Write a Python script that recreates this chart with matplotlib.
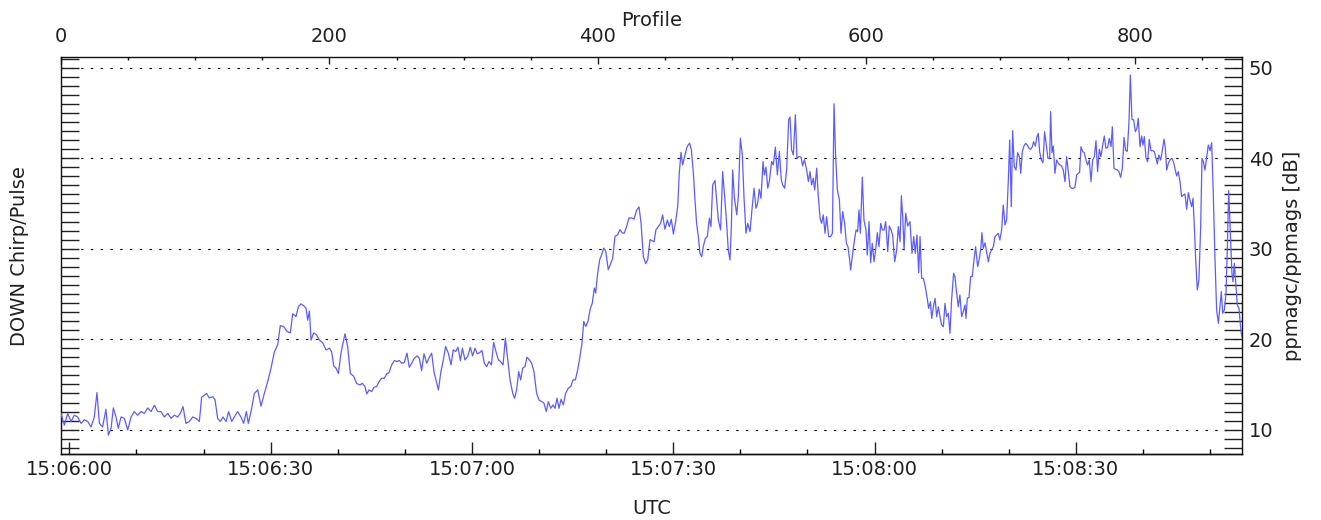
import numpy as np
import matplotlib
matplotlib.use("Agg")
import matplotlib.pyplot as plt
from matplotlib.ticker import MultipleLocator, FixedLocator, FuncFormatter

# ---- ppmagc/ppmags ratio per profile, grouped by time window ----
profile_a = [0, 2.5, 5.0, 7.5, 9.9, 12.4, 14.9, 17.4, 19.9, 22.4, 24.8, 26.8, 28.6, 31.0, 33.5,
             35.3, 37.3, 39.0, 41.0, 42.7, 44.7, 47.2, 49.7, 52.2, 54.6, 57.1, 59.6, 62.1, 64.6,
             67.1, 69.6, 72.0, 74.5, 77.0, 79.5, 82.0, 84.5, 86.9, 88.9, 90.9, 93.1, 95.6, 98.1,
             100.6, 103.1, 104.8, 106.8, 108.5, 110.5, 113.0, 114.8, 116.7, 118.7, 120.7, 123.0,
             124.9, 127.2, 129.2, 131.6, 134.1, 136.1, 138.1, 139.6, 141.6, 144.1, 146.6, 149.0,
             151.5, 154.0, 156.5, 159.0, 161.5, 163.4, 165.9, 168.4, 170.9, 172.6, 175.1, 176.9,
             178.8, 180.8, 182.6, 183.8, 185.1, 186.3, 188.3, 190.3, 192.5, 195.0, 197.5, 200.0,
             201.7, 203.2, 204.9, 206.7, 208.6, 211.6, 213.6, 215.6, 218.1, 220.3]
db_a = [11.8, 10.5, 11.8, 10.9, 11.6, 11.4, 10.7, 11.1, 10.9, 10.3, 11.4, 14.1, 10.7, 10.3, 12.25,
        9.4, 10.15, 12.4, 11.4, 10.15, 11.4, 11.25, 9.96, 11.4, 12.0, 11.6, 12.0, 11.8, 12.4,
        12.0, 12.7, 12.0, 12.0, 11.4, 11.8, 11.25, 11.6, 11.4, 11.8, 12.55, 10.7, 10.9, 11.4,
        11.25, 10.9, 13.6, 13.8, 14.0, 13.5, 13.65, 13.3, 11.25, 10.9, 11.4, 10.9,
        12.0, 10.9, 11.4, 12.0, 11.4, 10.7, 12.0, 10.7, 12.0, 14.0, 14.4, 12.6,
        14.0, 15.3, 16.8, 18.6, 19.4, 21.5, 21.4, 20.85, 20.7, 22.8, 22.5, 23.6,
        23.9, 23.7, 23.4, 22.1, 23.1, 19.9, 20.7, 20.5, 19.9, 19.6, 18.8, 19.0,
        18.6, 17.05, 16.8, 16.2, 18.45, 20.6, 19.2, 16.2, 15.9, 15.1]

profile_b = [222.8, 224.5, 226.5, 227.8, 229.5, 231.5, 233.2, 235.2, 237.0, 238.9,
             240.9, 242.7, 244.4, 246.4, 248.4, 250.4, 252.1, 253.8, 255.8, 257.8,
             259.5, 261.3, 263.3, 265.3, 267.0, 268.7, 270.5, 272.5, 274.2, 276.2,
             277.9, 279.7, 281.2, 283.1, 284.9, 286.6, 288.6, 290.6, 292.3, 294.1,
             295.8, 297.6, 299.1, 301.0, 303.0, 305.0, 306.7, 308.5, 310.2, 312.0,
             313.7, 315.4, 317.2, 318.9, 320.7, 322.4, 324.1, 325.9, 327.6, 329.4,
             331.1, 332.8, 334.6, 336.6, 338.0, 339.5, 341.0, 342.5, 344.0, 345.7,
             347.2, 349.0, 350.7, 352.4, 354.4, 356.2, 358.2, 359.9, 361.6, 363.1,
             364.9, 366.6, 368.1, 369.6, 371.1, 372.6, 374.3, 376.0, 378.0, 379.8,
             381.5, 383.3, 385.0, 386.7, 388.2, 389.5, 391.0, 392.7, 394.2, 395.9,
             397.4, 398.4, 399.9, 401.4, 402.9, 404.4, 405.9, 407.8, 409.3, 411.1,
             412.8, 414.8, 416.5, 418.3, 419.8, 421.5, 423.2, 425.2, 427.0, 428.9,
             430.7, 432.2, 433.9, 435.7, 437.2, 438.9]
db_b = [14.94, 15.13, 14.76, 13.95, 14.39, 14.21, 14.69, 14.76, 15.31, 15.68,
        15.68, 16.16, 16.31, 17.16, 17.64, 17.53, 17.64, 17.34, 17.42, 18.45,
        16.90, 17.34, 17.90, 18.15, 17.90, 16.53, 18.38, 17.34, 17.90, 18.45,
        16.42, 15.31, 14.39, 16.42, 17.71, 19.19, 18.45, 17.16, 18.82, 18.63,
        19.11, 17.64, 19.00, 17.71, 18.08, 19.11, 18.15, 19.00, 18.38, 18.52,
        18.75, 17.34, 16.97, 17.53, 17.16, 19.63, 18.63, 17.71, 17.53, 17.16,
        20.11, 17.90, 15.50, 14.02, 13.47, 14.39, 16.42, 15.50, 16.79, 16.97,
        18.01, 17.71, 17.34, 16.42, 14.02, 13.28, 13.10, 12.92, 12.00, 13.10,
        12.36, 12.73, 12.36, 13.47, 12.36, 13.36, 12.73, 14.02, 14.58, 14.76,
        15.50, 15.50, 16.61, 18.08, 19.56, 21.96, 21.40, 21.96, 23.25, 23.99,
        25.65, 25.09, 27.31, 28.78, 29.34, 30.07, 29.70, 27.68, 28.23, 28.97,
        31.37, 31.55, 32.10, 31.73, 31.73, 32.47, 33.39, 33.39, 33.28, 34.24,
        34.61, 32.84, 29.15, 28.34, 28.78, 31.00]

profile_c = [441.9, 443.3, 445.1, 446.8, 448.3, 450.0, 451.8, 453.3, 454.8, 456.3,
             458.0, 459.5, 460.7, 462.0, 463.2, 464.7, 466.2, 467.4, 468.4, 469.7,
             471.2, 472.4, 473.6, 474.9, 476.1, 477.4, 478.6, 480.1, 481.6, 483.1,
             484.3, 485.6, 487.3, 488.5, 489.8, 491.5, 493.0, 494.5, 496.0, 497.2,
             498.5, 499.5, 500.5, 501.7, 503.5, 504.7, 506.2, 507.7, 508.9, 510.4,
             511.7, 513.4, 514.6, 516.4, 517.9, 519.1, 520.3, 521.6, 523.1, 524.1,
             525.3, 526.6, 527.8, 529.5, 530.8, 532.3, 533.8, 535.3, 536.7, 537.7,
             539.2, 540.7, 542.2, 543.2, 544.4, 545.7, 547.2, 548.4, 549.9, 551.4,
             552.6, 553.9, 555.4, 556.9, 558.1, 559.3, 560.6, 561.6, 563.1, 564.3,
             565.6, 566.8, 568.0, 569.3, 570.5, 572.0, 573.5, 574.8, 576.0, 577.2,
             578.5, 580.0, 581.2, 582.5, 583.9, 585.2, 586.4, 587.4, 588.4, 589.6,
             590.9, 592.4, 593.6, 594.6, 595.6, 597.1, 598.3, 599.8, 600.8, 602.1,
             603.3, 604.5, 605.8, 607.0, 608.3, 609.5, 610.8, 612.0, 613.3, 614.5,
             616.0, 617.2, 618.5, 619.7, 621.2, 622.7, 623.9, 625.2, 626.2, 627.2,
             628.2, 629.4, 630.9, 632.6, 634.1, 635.4, 636.6, 637.8, 639.1, 640.1,
             641.3, 642.6, 644.0, 645.5, 646.5, 647.8, 648.8, 650.0, 651.3, 652.5,
             653.7, 655.0, 656.2, 657.5]
db_c = [30.77, 32.07, 32.44, 32.80, 33.73, 32.14, 33.17, 32.44, 33.25, 31.62,
        32.99, 34.65, 38.34, 40.63, 39.26, 40.18, 41.11, 41.48, 41.66, 40.92,
        38.34, 35.39, 32.80, 31.33, 29.48, 29.11, 30.22, 31.14, 31.33, 33.36,
        32.44, 37.05, 37.53, 35.39, 33.17, 32.07, 38.52, 35.76, 32.80, 29.85,
        28.75, 32.44, 38.71, 35.76, 33.73, 35.76, 42.21, 40.37, 35.76, 31.70,
        32.80, 31.88, 33.91, 36.68, 34.46, 35.02, 36.57, 35.57, 39.63, 38.15,
        39.00, 36.68, 37.42, 39.63, 39.26, 41.22, 38.15, 40.74, 37.60, 37.05,
        36.68, 38.71, 44.24, 44.54, 40.92, 40.37, 44.80, 40.00, 40.18, 40.11,
        39.15, 39.82, 38.89, 37.42, 38.52, 37.05, 37.79, 36.49, 38.89, 35.76,
        33.36, 32.80, 33.73, 31.70, 33.54, 31.33, 31.33, 31.70, 46.01, 40.18,
        36.49, 35.39, 31.70, 34.10, 32.80, 30.59, 30.22, 29.11, 27.64, 29.11,
        30.59, 32.07, 31.88, 34.28, 31.70, 37.90, 33.17, 32.07, 29.30, 32.99,
        28.45, 30.59, 28.56, 29.85, 31.77, 30.22, 32.80, 32.07, 32.07, 32.99,
        29.67, 32.51, 32.07, 31.51, 28.56, 29.85, 32.44, 30.77, 35.83, 33.54,
        29.85, 33.91, 32.51, 32.99, 29.48, 31.33, 29.48, 31.51, 27.34, 31.33,
        26.72, 26.72, 25.79, 24.50, 23.39, 24.13, 22.29, 23.58, 24.50, 22.47,
        23.58, 22.47, 21.55, 21.37]

profile_d = [658.7, 659.9, 661.2, 662.4, 663.6, 665.1, 666.1, 667.4, 668.6, 669.8,
             671.1, 672.3, 673.6, 674.3, 675.3, 676.6, 677.8, 679.0, 680.3, 681.5,
             683.0, 684.3, 685.5, 686.2, 687.2, 688.5, 689.7, 691.0, 692.2, 693.4,
             694.7, 695.9, 697.2, 698.4, 699.6, 700.9, 702.1, 703.4, 704.6, 705.9,
             706.9, 708.1, 709.1, 710.3, 711.6, 712.8, 714.1, 715.1, 716.3, 717.5,
             718.8, 720.0, 721.3, 722.5, 723.8, 724.7, 726.0, 727.2, 728.2, 729.2,
             730.5, 731.7, 732.9, 734.2, 735.4, 736.7, 737.4, 738.4, 739.4, 740.6,
             741.9, 743.1, 744.4, 745.6, 746.8, 748.1, 749.3, 750.6, 751.8, 753.1,
             754.3, 755.5, 756.8, 758.0, 759.0, 760.0, 761.3, 762.5, 763.7, 765.0,
             766.2, 767.5, 768.7, 770.0, 771.2, 772.4, 773.7, 774.9, 776.2, 777.4,
             778.6, 779.9, 781.1, 782.4, 783.4, 784.6, 785.8, 787.1, 788.3, 789.6,
             790.8, 792.1, 793.3, 794.5, 795.8, 796.8, 798.0, 799.3, 800.5, 801.7,
             802.7, 804.0, 805.2, 806.2, 807.2, 808.5, 809.7, 810.9, 812.2, 813.4,
             814.7, 815.9, 816.9, 818.1, 819.4, 820.6, 821.9, 822.9, 823.9, 825.1,
             826.6, 827.8, 829.1, 830.3, 831.3, 832.5, 833.8, 835.0, 836.3, 837.5,
             838.8, 840.0, 841.2, 842.5, 843.5, 844.5, 845.5, 846.7, 847.9, 849.2,
             850.2, 851.2, 852.4, 853.7, 854.9, 856.2, 857.4, 858.6, 859.9, 861.1,
             862.4, 863.6, 864.6, 865.6, 866.8, 868.1, 869.1, 870.1, 871.3, 872.5,
             873.3, 874.3, 875.3, 876.5, 877.8, 878.8, 879.8]
db_d = [23.96, 22.49, 22.85, 20.64, 24.33, 27.27, 26.91, 25.07, 23.59, 24.88,
        22.49, 23.04, 23.78, 22.30, 24.51, 24.62, 26.91, 26.91, 28.75, 30.22,
        28.01, 28.93, 30.22, 31.77, 30.04, 30.66, 29.67, 28.56, 29.48, 29.85,
        30.22, 31.33, 31.51, 31.69, 30.96, 32.06, 34.82, 32.62, 33.17, 37.59,
        42.01, 34.64, 43.04, 39.06, 38.69, 40.61, 40.17, 38.32, 40.72, 41.34,
        41.64, 41.45, 41.09, 40.98, 41.27, 41.82, 41.34, 42.38, 42.74, 40.72,
        39.80, 39.50, 42.93, 41.45, 39.98, 39.98, 45.14, 40.61, 41.34, 38.32,
        39.80, 39.43, 39.24, 39.13, 38.69, 37.40, 40.17, 38.51, 36.85, 36.67,
        36.67, 36.78, 38.14, 38.32, 38.43, 41.27, 40.72, 40.61, 39.80, 39.24,
        39.80, 37.40, 39.80, 40.17, 41.93, 38.51, 40.98, 40.17, 41.45, 42.45,
        41.09, 41.20, 42.19, 41.27, 43.48, 38.88, 38.77, 38.69, 38.51, 37.88,
        38.88, 42.30, 40.83, 40.76, 44.03, 49.19, 44.29, 44.22, 42.93, 43.30,
        44.40, 41.27, 42.45, 41.45, 42.38, 39.98, 39.61, 42.08, 40.83, 40.83,
        40.72, 39.98, 39.36, 40.35, 39.80, 40.83, 42.12, 41.09, 38.69, 39.43,
        39.87, 39.98, 39.50, 38.69, 38.03, 38.51, 37.40, 35.75, 35.93, 36.04,
        34.35, 36.19, 35.38, 34.64, 35.56, 32.43, 28.75, 25.43, 26.54, 32.43,
        39.98, 39.61, 38.69, 40.17, 41.45, 40.83, 41.71, 36.04, 28.75, 23.22,
        21.75, 23.59, 25.25, 22.85, 23.22, 25.07, 30.22, 36.41, 31.69, 27.27,
        26.35, 28.38, 26.35, 23.78, 23.41, 21.57, 20.28]

profile_no = np.concatenate([profile_a, profile_b, profile_c, profile_d])
ratio_db = np.concatenate([db_a, db_b, db_c, db_d])

# UTC tick positions, seconds after 15:06:00
utc_major_s = [0, 30, 60, 90, 120, 150]
utc_minor_s = list(range(0, 180, 10))

# profile clock: 5 profiles per second, 15:06:00 falls on profile 6.2
T0_SECONDS = 15 * 3600 + 6 * 60
PROFILE_AT_T0 = 6.2
PROFILE_RATE = 5.0


def prof_to_sec(p):
    return (np.asarray(p, dtype=float) - PROFILE_AT_T0) / PROFILE_RATE


def sec_to_prof(s):
    return np.asarray(s, dtype=float) * PROFILE_RATE + PROFILE_AT_T0


def hms(s, pos):
    tot = int(round(T0_SECONDS + s))
    return f"{tot // 3600:02d}:{(tot // 60) % 60:02d}:{tot % 60:02d}"


plt.rcParams["font.family"] = ["DejaVu Sans"]
text_color = "#202020"

fig = plt.figure(figsize=(13.21, 5.2), dpi=100)
ax = fig.add_axes([61 / 1321, 66 / 520, 1181 / 1321, 397 / 520])

ax.plot(profile_no, ratio_db, color="#5c5cff", lw=0.9, zorder=3)

ax.set_xlim(0, 880)
ax.set_ylim(7.31, 51.18)

# dotted reference lines every 10 dB
ax.yaxis.set_major_locator(MultipleLocator(10))
ax.yaxis.set_minor_locator(MultipleLocator(1))
ax.grid(axis="y", which="major", color="black", lw=0.8, linestyle=(0, (2.2, 6.6)), zorder=1)

# top axis: profile number
ax.xaxis.set_ticks_position("top")
ax.xaxis.set_label_position("top")
ax.xaxis.set_major_locator(MultipleLocator(200))
ax.xaxis.set_minor_locator(MultipleLocator(50))
ax.tick_params(axis="x", which="major", direction="in", length=5.2, width=1.0,
               pad=8.0, labelsize=14, colors=text_color)
ax.tick_params(axis="x", which="minor", direction="in", length=2.5, width=1.0)
ax.set_xlabel("Profile", fontsize=14, color=text_color, labelpad=1)

# left/right axes: ticks both sides, labels on the right
ax.tick_params(axis="y", which="both", direction="in", left=True, right=True,
               labelleft=False, labelright=True, length=13, width=1.0,
               pad=5, labelsize=14, colors=text_color)

# bottom axis: UTC time
secax = ax.secondary_xaxis("bottom", functions=(prof_to_sec, sec_to_prof))
secax.xaxis.set_major_locator(FixedLocator(utc_major_s))
secax.xaxis.set_minor_locator(FixedLocator(utc_minor_s))
secax.xaxis.set_major_formatter(FuncFormatter(hms))
secax.tick_params(axis="x", which="major", direction="in", length=8.5, width=1.0,
                  pad=4.5, labelsize=14, colors=text_color)
secax.tick_params(axis="x", which="minor", direction="in", length=3.6, width=1.0)
secax.set_xlabel("UTC", fontsize=14, color=text_color, labelpad=14)

for sp in ax.spines.values():
    sp.set_linewidth(1.0)
    sp.set_color("#111111")
secax.spines["bottom"].set_linewidth(1.0)

fig.text(20 / 1321, 1 - 256 / 520, "DOWN Chirp/Pulse", rotation=90, ha="center",
         va="center", fontsize=14, color=text_color)
fig.text(1293 / 1321, 1 - 256 / 520, "ppmagc/ppmags [dB]", rotation=90, ha="center",
         va="center", fontsize=14, color=text_color)

fig.savefig("out.png", dpi=100)
